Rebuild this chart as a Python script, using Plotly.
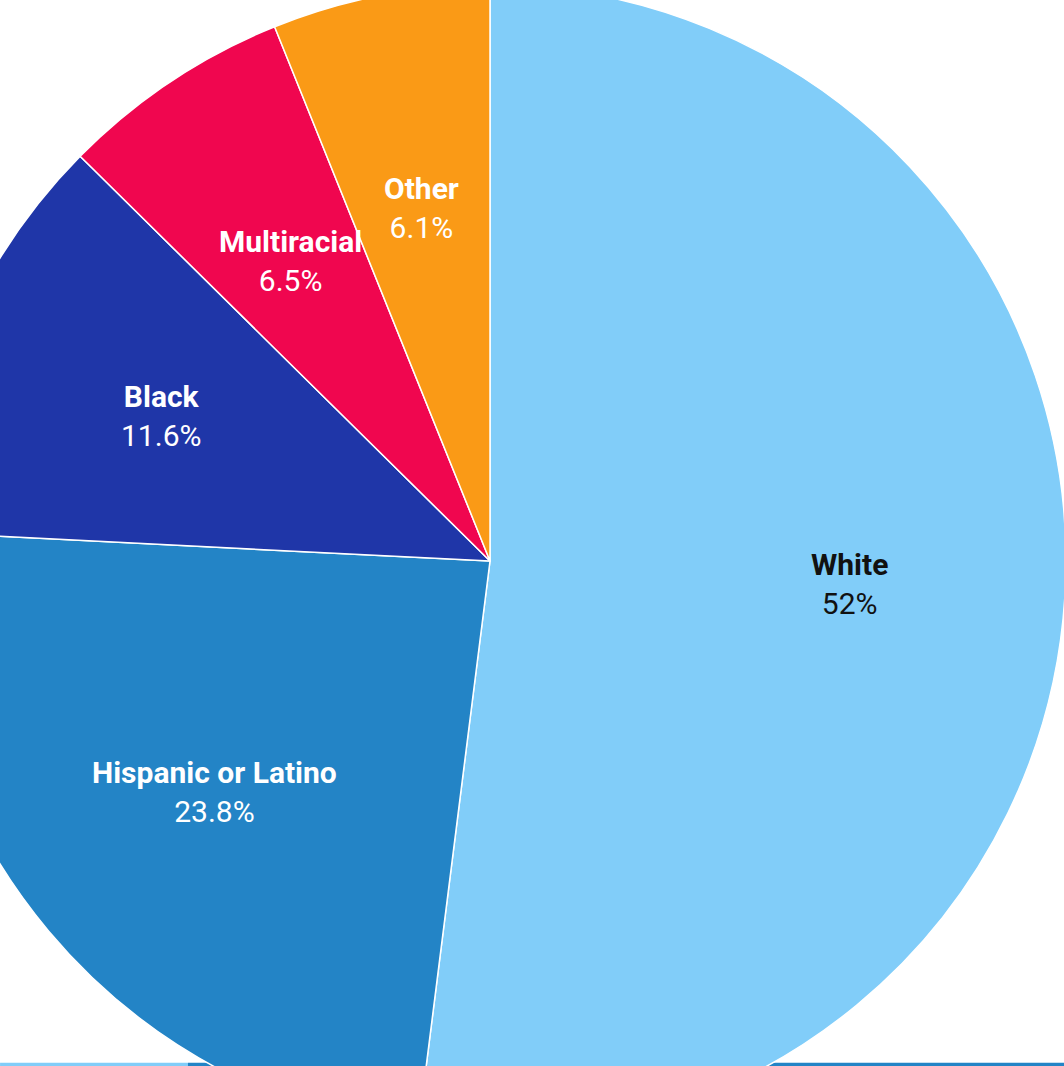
import math
import plotly.graph_objects as go

# Population share by race / ethnicity (percent)
groups = ["White", "Hispanic or Latino", "Black", "Multiracial", "Other"]
shares = [52, 23.8, 11.6, 6.5, 6.1]
slice_colors = ["#81CDF9", "#2384C6", "#1F36A8", "#F0064F", "#FA9A16"]
label_colors = ["#111111", "#FFFFFF", "#FFFFFF", "#FFFFFF", "#FFFFFF"]

SIZE = 1152          # figure is square; pie fills it
LABEL_RADIUS = 0.625 # labels sit at this fraction of the pie radius
FONT = "Roboto"

fig = go.Figure(
    go.Pie(
        labels=groups,
        values=shares,
        sort=False,
        direction="clockwise",
        rotation=0,
        marker=dict(colors=slice_colors, line=dict(color="#FFFFFF", width=1.5)),
        textinfo="none",
        hoverinfo="label+percent",
        showlegend=False,
    )
)

# Slice labels placed on each slice's bisector at a fixed radius
total = sum(shares)
cum = 0.0
annotations = []
for name, val, col in zip(groups, shares, label_colors):
    mid = (cum + val / 2) / total * 2 * math.pi  # clockwise from 12 o'clock
    cum += val
    x = 0.5 + 0.5 * LABEL_RADIUS * math.sin(mid)
    y = 0.5 + 0.5 * LABEL_RADIUS * math.cos(mid)
    annotations.append(
        dict(
            x=x, y=y, xref="paper", yref="paper",
            text=f"<b>{name}</b><br>{val:g}%",
            showarrow=False, xanchor="center", yanchor="middle",
            font=dict(family=FONT, size=30, color=col),
        )
    )

fig.update_layout(
    width=SIZE,
    height=SIZE,
    margin=dict(l=0, r=0, t=0, b=0),
    paper_bgcolor="#FFFFFF",
    plot_bgcolor="#FFFFFF",
    annotations=annotations,
    shapes=[
        # thin page rule running behind the bottom of the pie
        dict(type="rect", xref="paper", yref="paper", layer="below",
             x0=0.0747, x1=0.2378, y0=0.0600, y1=0.0645,
             fillcolor="#81CDF9", line=dict(width=0)),
        dict(type="rect", xref="paper", yref="paper", layer="below",
             x0=0.2378, x1=1.0, y0=0.0600, y1=0.0645,
             fillcolor="#2384C6", line=dict(width=0)),
    ],
)

# The pie is larger than the viewport: shift the plot so its centre sits
# left of the middle and the outer rim runs off the top, left and bottom.
shift = (
    "var gd=document.getElementById('{plot_id}');"
    "gd.style.position='absolute';gd.style.left='-86px';gd.style.top='-15px';"
    "document.body.style.overflow='hidden';document.body.style.margin='0';"
)

fig.write_html("out.html", post_script=shift)
